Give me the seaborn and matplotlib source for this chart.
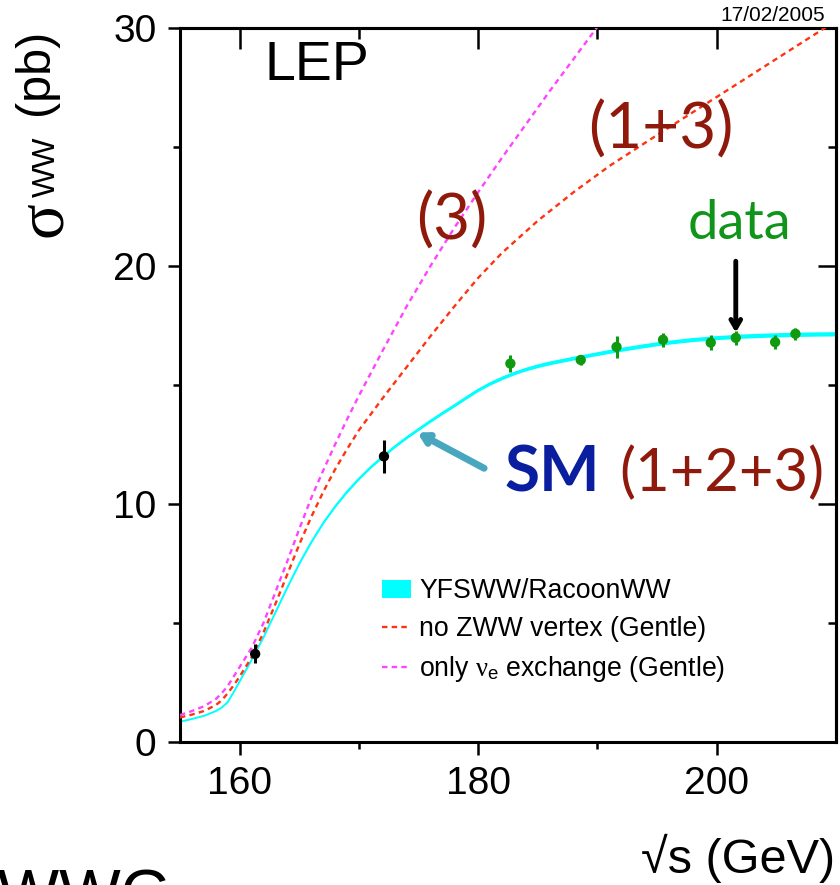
import numpy as np
import pandas as pd
import seaborn as sns
import matplotlib.pyplot as plt
from matplotlib.patches import Patch
from matplotlib.lines import Line2D

# SM prediction (YFSWW/RacoonWW), band half-width
sm_e = [155, 156, 157, 158, 158.5, 159, 159.5, 160, 160.5, 161, 162, 163, 164, 165, 166, 167, 168,
        169, 170, 171, 172, 173, 174, 175, 176, 177, 178, 179, 180, 181, 182, 183, 184, 185, 186,
        188, 190, 192, 194, 196, 198, 200, 202, 204, 206, 208, 210]
sm_xs = [0.85, 0.97, 1.1, 1.3, 1.45, 1.68, 2.1, 2.55, 3.0, 3.45, 4.4, 5.45, 6.5, 7.5, 8.4, 9.2, 9.9,
         10.52, 11.07, 11.56, 12.0, 12.42, 12.8, 13.15, 13.5, 13.83, 14.15, 14.48, 14.8, 15.07, 15.3,
         15.5, 15.67, 15.81, 15.93, 16.13, 16.32, 16.5, 16.66, 16.8, 16.91, 16.99, 17.05, 17.09, 17.12,
         17.14, 17.15]
sm_unc = [0.01, 0.01, 0.01, 0.01, 0.01, 0.015, 0.015, 0.015, 0.02, 0.02, 0.02, 0.025, 0.03, 0.035, 0.04,
          0.04, 0.045, 0.05, 0.05, 0.05, 0.055, 0.055, 0.06, 0.06, 0.065, 0.065, 0.07, 0.07, 0.07, 0.075,
          0.075, 0.075, 0.075, 0.08, 0.08, 0.08, 0.08, 0.085, 0.085, 0.085, 0.085, 0.085, 0.09, 0.09,
          0.09, 0.09, 0.09]

# no ZWW vertex (Gentle)
nozww_e = [155, 156, 157, 158, 158.5, 159, 159.5, 160, 161, 162, 163, 164, 165, 166, 167, 168, 169,
           170, 172, 174, 176, 178, 180, 182, 185, 188, 191, 195, 200, 205, 210]
nozww_xs = [1.03, 1.15, 1.3, 1.55, 1.75, 2.05, 2.38, 2.75, 3.55, 4.6, 5.8, 7.05, 8.3, 9.45, 10.5, 11.45,
            12.3, 13.1, 14.45, 15.75, 17.05, 18.3, 19.5, 20.55, 21.9, 23.1, 24.2, 25.5, 27.1, 28.7, 30.3]

# only nu_e exchange (Gentle)
nue_e = [155, 156, 157, 158, 158.5, 159, 159.5, 160, 161, 162, 163, 164, 165, 166, 167, 168, 169,
         170, 172, 174, 176, 178, 180, 182, 184, 186, 188, 190, 192]
nue_xs = [1.13, 1.3, 1.5, 1.8, 2.05, 2.35, 2.75, 3.15, 3.95, 5.0, 6.3, 7.6, 8.95, 10.25, 11.4, 12.5,
          13.55, 14.55, 16.45, 18.3, 20.0, 21.6, 23.1, 24.55, 25.95, 27.35, 28.7, 30.05, 31.35]

# LEP measurements
thr_e = [161.3, 172.1]
thr_xs = [3.7, 12.0]
thr_err = [0.4, 0.7]
data_e = [182.7, 188.6, 191.6, 195.5, 199.5, 201.6, 204.9, 206.6]
data_xs = [15.9, 16.05, 16.6, 16.9, 16.78, 16.98, 16.8, 17.15]
data_err = [0.35, 0.2, 0.45, 0.3, 0.3, 0.3, 0.3, 0.25]

sns.set_style('ticks')
plt.rcParams['font.family'] = ['Liberation Sans', 'DejaVu Sans']
plt.rcParams['mathtext.fontset'] = 'custom'
plt.rcParams['mathtext.it'] = 'Liberation Serif'
plt.rcParams['mathtext.rm'] = 'Liberation Sans'
for k in ['text.color', 'axes.labelcolor', 'xtick.color', 'ytick.color', 'axes.edgecolor']:
    plt.rcParams[k] = 'black'

W, H = 840, 885
fig = plt.figure(figsize=(W / 100, H / 100), dpi=100)
ax = fig.add_axes([0.2143, 0.1616, 0.7809, 0.8068])

cyan = '#00ffff'
red = '#ff3311'
magenta = '#ff44ff'
darkred = '#8f1a0c'
green = '#0f9a10'
dash = (0, (2.3, 1.8))

sm = pd.DataFrame({'e': sm_e, 'sigma': sm_xs, 'unc': sm_unc})
ax.fill_between(sm['e'], sm['sigma'] - sm['unc'], sm['sigma'] + sm['unc'], color=cyan, lw=0, zorder=2)
sns.lineplot(data=sm, x='e', y='sigma', ax=ax, color=cyan, lw=1.3, zorder=2)
sns.lineplot(x=nozww_e, y=nozww_xs, ax=ax, color=red, lw=1.7, linestyle=dash, zorder=3)
sns.lineplot(x=nue_e, y=nue_xs, ax=ax, color=magenta, lw=1.7, linestyle=dash, zorder=3)

ax.errorbar(thr_e, thr_xs, yerr=thr_err, fmt='none', ecolor='black', elinewidth=2.2, zorder=4)
sns.scatterplot(x=thr_e, y=thr_xs, ax=ax, color='black', s=55, edgecolor='none', zorder=5)
ax.errorbar(data_e, data_xs, yerr=data_err, fmt='none', ecolor=green, elinewidth=2.2, zorder=4)
sns.scatterplot(x=data_e, y=data_xs, ax=ax, color=green, s=55, edgecolor='none', zorder=5)

ax.set_xlim(155, 210)
ax.set_ylim(0, 30)
ax.set_xticks([160, 180, 200])
ax.set_xticks([170, 190], minor=True)
ax.set_yticks([0, 10, 20, 30])
ax.set_yticks([5, 15, 25], minor=True)
ax.set_xlabel('')
ax.set_ylabel('')
for s in ax.spines.values():
    s.set_visible(True)
    s.set_linewidth(2.2)
ax.tick_params(which='major', direction='out', length=9, width=1.8, labelsize=28, pad=8)
ax.tick_params(which='minor', direction='out', length=5, width=1.8)

secx = ax.secondary_xaxis('top')
secx.set_xticks([160, 180, 200])
secx.set_xticks([170, 190], minor=True)
secx.tick_params(which='major', direction='in', length=15, width=1.8, labeltop=False)
secx.tick_params(which='minor', direction='in', length=8, width=1.8)
secx.spines['top'].set_linewidth(2.2)
secy = ax.secondary_yaxis('right')
secy.set_yticks([0, 10, 20, 30])
secy.set_yticks([5, 15, 25], minor=True)
secy.tick_params(which='major', direction='in', length=13, width=1.8, labelright=False)
secy.tick_params(which='minor', direction='in', length=6, width=1.8)
secy.spines['right'].set_linewidth(2.2)

handles = [Patch(facecolor=cyan, edgecolor='none'),
           Line2D([], [], color=red, lw=1.7, linestyle=dash),
           Line2D([], [], color=magenta, lw=1.7, linestyle=dash)]
labels = ['YFSWW/RacoonWW', 'no ZWW vertex (Gentle)',
          r'only $\nu_{\mathrm{e}}$ exchange (Gentle)']
ax.legend(handles, labels, loc='upper left', bbox_to_anchor=(0.308, 0.229), frameon=False,
          fontsize=19.2, handlelength=1.1, handletextpad=0.3, labelspacing=0.44,
          borderaxespad=0, borderpad=0)

ax.text(162.1, 28.4, 'LEP', fontsize=40, ha='left', va='center')

gill = ['Lato', 'DejaVu Sans']
ax.text(177.75, 21.9, '(3)', fontsize=46, color=darkred, family=gill, ha='center', va='center')
ax.text(195.3, 25.7, '(1+3)', fontsize=46, color=darkred, family=gill, ha='center', va='center')
ax.text(201.9, 21.8, 'data', fontsize=39, color='#11941a', family=gill, ha='center', va='center')
ax.text(182.2, 11.3, 'SM', fontsize=46, color='#0a1fa0', family=gill, weight='bold',
        ha='left', va='center')
ax.text(191.8, 11.3, '(1+2+3)', fontsize=43, color=darkred, family=gill, ha='left', va='center')

ax.annotate('', xy=(201.6, 17.2), xytext=(201.6, 20.2),
            arrowprops=dict(arrowstyle='->, head_length=0.6, head_width=0.35', color='black',
                            lw=3.5, shrinkA=0, shrinkB=0))
ax.annotate('', xy=(174.9, 13.0), xytext=(180.5, 11.5),
            arrowprops=dict(arrowstyle='->, head_length=0.55, head_width=0.32', color='#48a6bf',
                            lw=5, shrinkA=0, shrinkB=0))

# y title in three pieces: sigma, WW subscript, (pb)
ykw = dict(rotation=90, rotation_mode='anchor', ha='left', va='baseline')
fig.text(61 / W, 1 - 237 / H, 'σ', fontsize=48, family=['Liberation Serif'], **ykw)
fig.text(55 / W, 1 - 197 / H, 'WW', fontsize=23, **ykw)
fig.text(48 / W, 1 - 115 / H, '(pb)', fontsize=35, **ykw)

fig.text(0.994, 0.014, '√s (GeV)', fontsize=35, ha='right', va='baseline')
fig.text(0.982, 0.972, '17/02/2005', fontsize=15, ha='right', va='bottom')
fig.text(0.205, -0.035, 'EWWG', fontsize=47, ha='right', va='baseline')

fig.savefig('out.png', dpi=100)
